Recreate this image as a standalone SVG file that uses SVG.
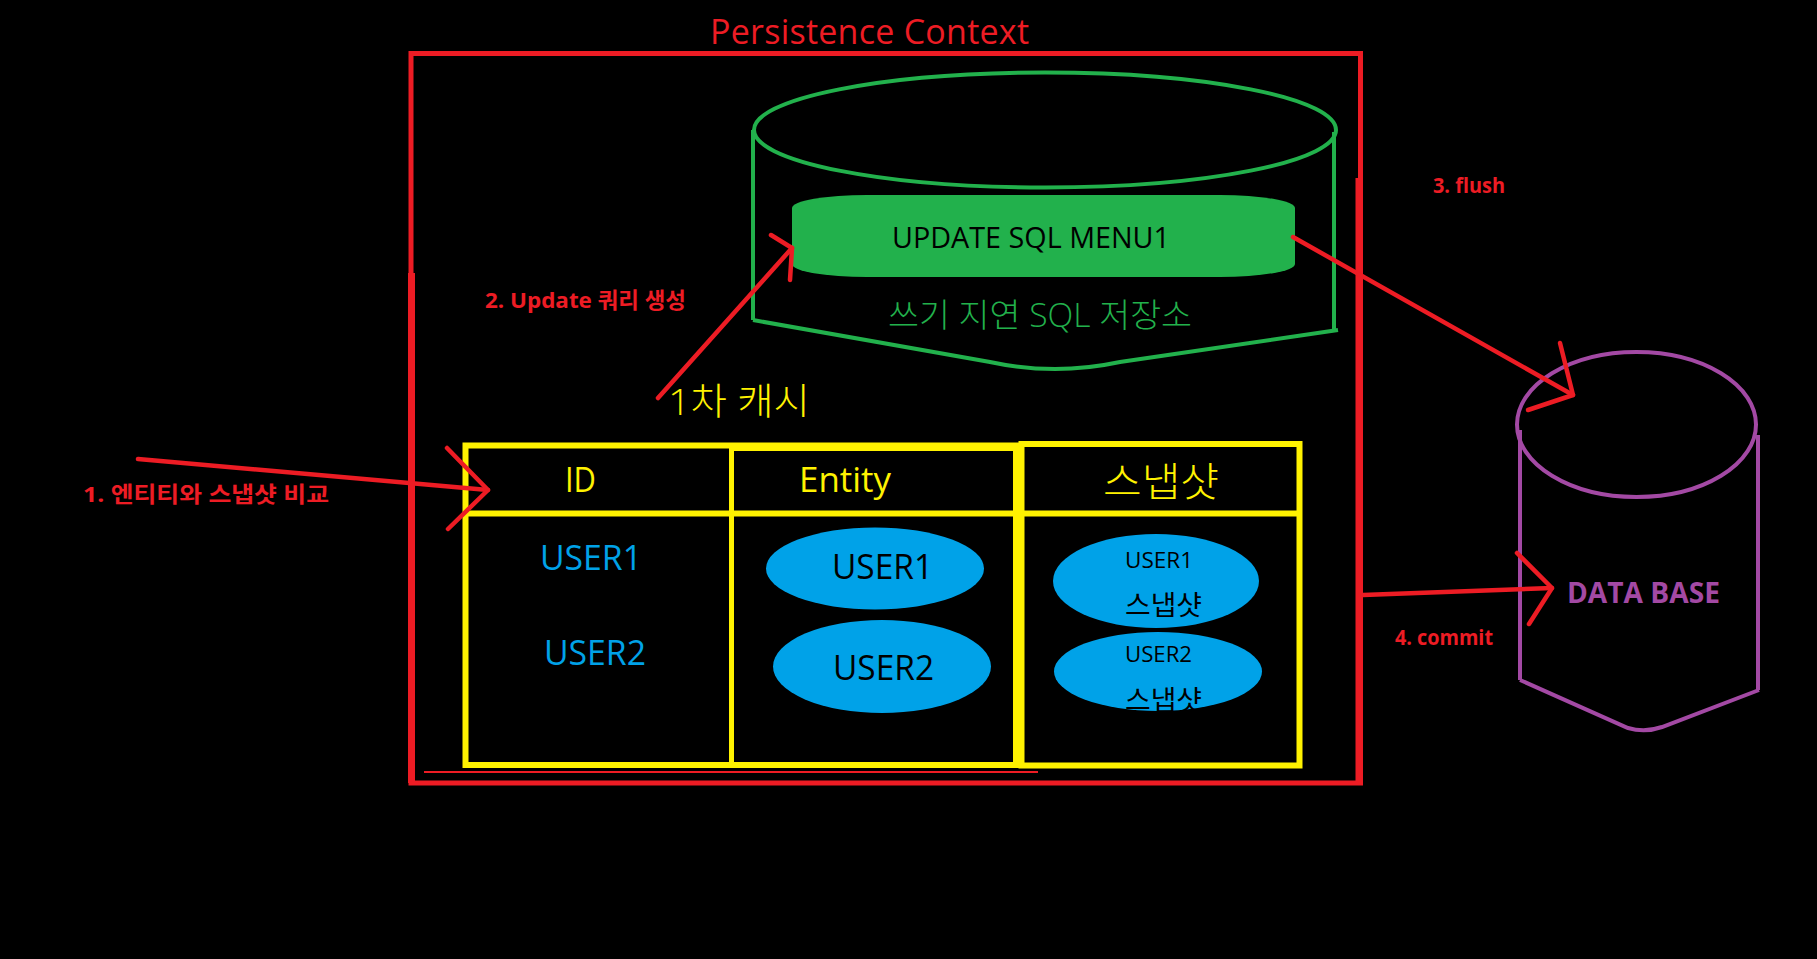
<svg xmlns="http://www.w3.org/2000/svg" width="1817" height="959" viewBox="0 0 1817 959">
<style>
  .t { font-family: "Open Sans", "Noto Sans CJK KR", sans-serif; }
  .lt { font-weight: 300; }
  .lbl { font-family: "Open Sans", "Noto Sans CJK KR", sans-serif; font-weight: bold; font-size: 22px; fill: #ED1C24; }
  .red { stroke: #ED1C24; fill: none; }
  .grn { stroke: #22B14C; fill: none; stroke-width: 4; }
  .yel { stroke: #FFF200; fill: none; }
  .pur { stroke: #A349A4; fill: none; stroke-width: 4; }
  .arrow { stroke: #ED1C24; fill: none; stroke-width: 4.5; stroke-linecap: round; stroke-linejoin: round; }
  .blue { fill: #00A2E8; }
</style>
<rect x="0" y="0" width="1817" height="959" fill="#000000"/>

<g id="persistence-context">
  <rect class="red" x="411" y="53.5" width="949.5" height="729.5" stroke-width="5"/>
  <line class="red" x1="411.5" y1="273" x2="411.5" y2="783" stroke-width="7"/>
  <line class="red" x1="1359" y1="178" x2="1359" y2="783" stroke-width="7"/>
  <line class="red" x1="424" y1="772" x2="1038" y2="772" stroke-width="2"/>
  <text class="t" x="710" y="44" font-size="34" fill="#ED1C24" textLength="319">Persistence Context</text>
</g>

<g id="write-behind-store">
  <ellipse class="grn" cx="1045" cy="130" rx="291" ry="57.5"/>
  <line class="grn" x1="753" y1="130" x2="753" y2="320"/>
  <line class="grn" x1="1334" y1="132" x2="1334" y2="330"/>
  <path class="grn" d="M753,320 L990,362 Q1055,376 1120,362 L1338,330"/>
  <rect x="792" y="195" width="503" height="82" rx="75" ry="13" fill="#22B14C"/>
  <text class="t" x="892" y="248" font-size="30" fill="#000000" textLength="278" lengthAdjust="spacingAndGlyphs">UPDATE SQL MENU1</text>
  <text class="t lt" x="888" y="327" font-size="33" fill="#22B14C" textLength="304" lengthAdjust="spacingAndGlyphs">쓰기 지연 SQL 저장소</text>
</g>

<g id="first-level-cache">
  <text class="t lt" x="668" y="415" font-size="37" fill="#FFF200" textLength="142" lengthAdjust="spacingAndGlyphs">1차 캐시</text>
  <rect class="yel" x="465.5" y="445.5" width="550.5" height="319.5" stroke-width="6"/>
  <line class="yel" x1="731" y1="449.5" x2="1016" y2="449.5" stroke-width="3"/>
  <line class="yel" x1="465" y1="513.5" x2="1016" y2="513.5" stroke-width="6"/>
  <line class="yel" x1="731.5" y1="445" x2="731.5" y2="765" stroke-width="5"/>
  <text class="t" x="565" y="492" font-size="35" fill="#FFF200" textLength="31" lengthAdjust="spacingAndGlyphs">ID</text>
  <text class="t" x="799" y="492" font-size="35" fill="#FFF200" textLength="92" lengthAdjust="spacingAndGlyphs">Entity</text>
  <text class="t blue" x="540" y="570" font-size="35" textLength="102" lengthAdjust="spacingAndGlyphs">USER1</text>
  <text class="t blue" x="544" y="665" font-size="35" textLength="102" lengthAdjust="spacingAndGlyphs">USER2</text>
  <ellipse class="blue" cx="875" cy="568.5" rx="109" ry="41"/>
  <ellipse class="blue" cx="882" cy="666.5" rx="109" ry="46.5"/>
  <text class="t" x="832" y="579" font-size="35" fill="#000000" textLength="101" lengthAdjust="spacingAndGlyphs">USER1</text>
  <text class="t" x="833" y="680" font-size="35" fill="#000000" textLength="101" lengthAdjust="spacingAndGlyphs">USER2</text>
</g>

<g id="snapshot">
  <rect class="yel" x="1021.5" y="444" width="278" height="321.5" stroke-width="6"/>
  <line class="yel" x1="1021" y1="513.5" x2="1300" y2="513.5" stroke-width="6"/>
  <text class="t lt" x="1103" y="496" font-size="40" fill="#FFF200" textLength="116" lengthAdjust="spacingAndGlyphs">스냅샷</text>
  <ellipse class="blue" cx="1156" cy="581" rx="103" ry="47"/>
  <ellipse class="blue" cx="1158" cy="671.5" rx="104" ry="39.5"/>
  <text class="t" x="1125" y="568" font-size="22" fill="#000000" textLength="68" lengthAdjust="spacingAndGlyphs">USER1</text>
  <text class="t" x="1125" y="615" font-size="27" fill="#000000" textLength="77" lengthAdjust="spacingAndGlyphs">스냅샷</text>
  <text class="t" x="1125" y="662" font-size="22" fill="#000000" textLength="67" lengthAdjust="spacingAndGlyphs">USER2</text>
  <text class="t" x="1125" y="710" font-size="27" fill="#000000" textLength="77" lengthAdjust="spacingAndGlyphs">스냅샷</text>
</g>

<g id="database">
  <ellipse class="pur" cx="1636.5" cy="424.5" rx="119.5" ry="72.5"/>
  <line class="pur" x1="1520" y1="430" x2="1520" y2="680"/>
  <line class="pur" x1="1758" y1="435" x2="1758" y2="690"/>
  <path class="pur" d="M1520,680 L1628,728 Q1645,733 1662,727 L1759,690"/>
  <text class="t" x="1567" y="603" font-size="28" font-weight="bold" fill="#A349A4" textLength="153" lengthAdjust="spacingAndGlyphs">DATA BASE</text>
</g>

<g id="connectors">
  <g id="edge-compare">
    <path class="arrow" d="M138,459 L488,490"/>
    <polyline class="arrow" points="447,448 488,490 448,529"/>
    <text class="lbl" x="83" y="502" font-size="23" textLength="246" lengthAdjust="spacingAndGlyphs">1. 엔티티와 스냅샷 비교</text>
  </g>
  <g id="edge-update">
    <path class="arrow" d="M658,398 L792,248"/>
    <polyline class="arrow" points="771,235 792,248 790,280"/>
    <text class="lbl" x="485" y="308" textLength="201" lengthAdjust="spacingAndGlyphs">2. Update 쿼리 생성</text>
  </g>
  <g id="edge-flush">
    <path class="arrow" d="M1293,237 L1573,395"/>
    <polyline class="arrow" points="1560,343 1573,395 1528,410"/>
    <text class="lbl" x="1433" y="193" textLength="72" lengthAdjust="spacingAndGlyphs">3. flush</text>
  </g>
  <g id="edge-commit">
    <path class="arrow" d="M1363,595 L1552,588" stroke-width="5.5"/>
    <polyline class="arrow" points="1517,553 1552,588 1529,624"/>
    <text class="lbl" x="1395" y="645" textLength="98" lengthAdjust="spacingAndGlyphs">4. commit</text>
  </g>
</g>
</svg>
